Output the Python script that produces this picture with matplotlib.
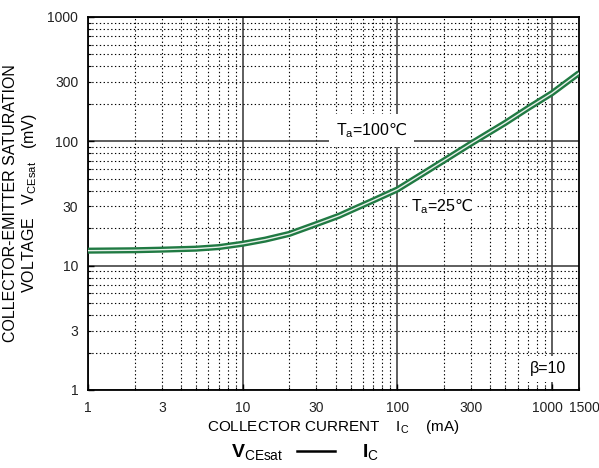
import matplotlib
matplotlib.use("Agg")
import matplotlib.pyplot as plt
from matplotlib.lines import Line2D
from matplotlib.transforms import ScaledTranslation

plt.rcParams['font.family'] = ['Liberation Sans', 'DejaVu Sans']
plt.rcParams['mathtext.fontset'] = 'custom'
plt.rcParams['mathtext.rm'] = 'Liberation Sans'
plt.rcParams['mathtext.it'] = 'Liberation Sans:italic'
plt.rcParams['mathtext.bf'] = 'Liberation Sans:bold'
plt.rcParams['mathtext.sf'] = 'DejaVu Sans'

# collector current (mA) vs saturation voltage (mV)
ic_ma = [1, 2, 3, 5, 7, 10, 14, 20, 30, 42, 50, 70, 100, 150, 200, 300,
         500, 700, 1000, 1500]
vce_mv = [13.2, 13.3, 13.45, 13.7, 14.1, 15.0, 16.2, 18.0, 21.6, 25.2, 27.8,
          33.5, 41, 56, 70, 96, 141, 185, 244, 355]

x_major = [1, 10, 100, 1000]
x_major_labels = ['1', '10', '100', '1000']
y_major = [1, 10, 100, 1000]
y_major_labels = ['1', '10', '100', '1000']
labelled_minor = {3: '3', 30: '30', 300: '300', 1500: '1500'}

green = '#207a43'

fig = plt.figure(figsize=(5.99, 4.68), dpi=100)
ax = fig.add_axes([0.147, 0.1667, 0.820, 0.797])
ax.set_xscale('log')
ax.set_yscale('log')
ax.set_xlim(1, 1500)
ax.set_ylim(1, 1000)

x_minor = [m * d for d in (1, 10, 100) for m in range(2, 10)] + [1500]
y_minor = [m * d for d in (1, 10, 100) for m in range(2, 10)]

ax.set_xticks(x_major, x_major_labels)
ax.set_yticks(y_major, y_major_labels)
ax.set_xticks(x_minor, [labelled_minor.get(v, '') for v in x_minor], minor=True)
ax.set_yticks(y_minor, [labelled_minor.get(v, '') for v in y_minor], minor=True)

ax.tick_params(which='both', direction='in', labelsize=10, color='black',
               labelcolor='#222222')
ax.tick_params(which='major', length=4, width=1)
ax.tick_params(which='minor', length=2.5, width=0.8)
ax.tick_params(axis='x', which='both', pad=8)
ax.tick_params(axis='y', which='both', pad=7)

# nudge the crowded 1000 / 1500 labels apart
for t in ax.xaxis.get_major_ticks():
    if t.label1.get_text() == '1000':
        t.label1.set_transform(t.label1.get_transform() +
                               ScaledTranslation(-3 / 72, 0, fig.dpi_scale_trans))
for t in ax.xaxis.get_minor_ticks():
    if t.label1.get_text() == '1500':
        t.label1.set_transform(t.label1.get_transform() +
                               ScaledTranslation(4 / 72, 0, fig.dpi_scale_trans))

ax.grid(which='major', color='#333333', linestyle='-', linewidth=1.1)
ax.grid(which='minor', color='black', linestyle=(0, (1.2, 2.2)), linewidth=0.8)
for s in ax.spines.values():
    s.set_linewidth(1.3)

ax.plot(ic_ma, vce_mv, color=green, linewidth=4.4, solid_capstyle='butt', zorder=5)
ax.plot(ic_ma, vce_mv, color='#e8f0ea', linewidth=1.0, zorder=6)

ax.text(0.504, 0.683, r'$\mathrm{T_a}$=100$\mathsf{℃}$', transform=ax.transAxes,
        fontsize=11.5, bbox=dict(facecolor='white', edgecolor='none', pad=5), zorder=7)
ax.text(0.657, 0.478, r'$\mathrm{T_a}$=25$\mathsf{℃}$', transform=ax.transAxes,
        fontsize=11.5, bbox=dict(facecolor='white', edgecolor='none', pad=2), zorder=7)
ax.text(0.9, 0.045, 'β=10', transform=ax.transAxes, fontsize=11.5,
        bbox=dict(facecolor='white', edgecolor='none', pad=4), zorder=7)

ax.set_xlabel(r'COLLECTOR CURRENT    $\mathrm{I_C}$    (mA)', fontsize=11, labelpad=2)
ax.set_ylabel('COLLECTOR-EMITTER SATURATION\n' + r'VOLTAGE   $\mathrm{V_{CEsat}}$   (mV)',
              fontsize=11.5, labelpad=6, linespacing=1.15)

# title line: V_CEsat ---- I_C
fig.text(231 / 599, 1 - 457 / 468, r'$\mathbf{V}_{\mathrm{CEsat}}$', fontsize=14,
         ha='left', va='baseline')
fig.text(362 / 599, 1 - 457 / 468, r'$\mathbf{I}_{\mathrm{C}}$', fontsize=14,
         ha='left', va='baseline')
fig.add_artist(Line2D([297 / 599, 335 / 599], [1 - 451 / 468, 1 - 451 / 468],
                      transform=fig.transFigure, color='black', linewidth=1.8))

fig.savefig('out.png', dpi=100)
